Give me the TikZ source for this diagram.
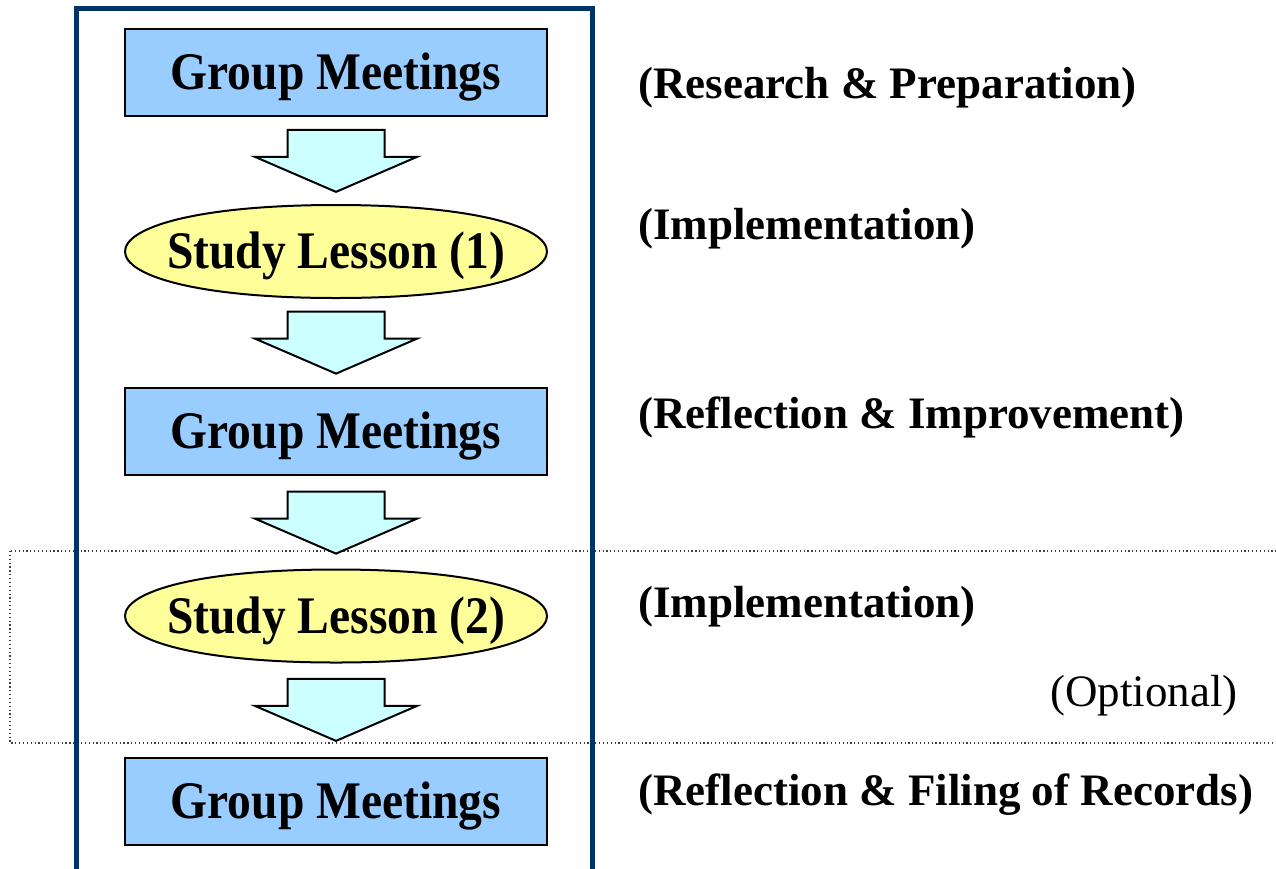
\documentclass[tikz,border=0pt]{standalone}
\usepackage{fontspec}
\setmainfont{Liberation Serif}
\newfontfamily\boxfont[FakeStretch=0.9]{Liberation Serif}
\usetikzlibrary{calc,backgrounds}
\definecolor{boxblue}{HTML}{99CCFF}
\definecolor{ellyellow}{HTML}{FFFF99}
\definecolor{arrcyan}{HTML}{CCFFFF}
\definecolor{framenavy}{HTML}{003366}
\tikzset{
  stagebox/.style={draw=black, line width=1.5pt, fill=boxblue, minimum width=316.5pt, minimum height=65.25pt, inner sep=0pt, text height=26pt, text depth=0pt, font=\boxfont\fontsize{39.6}{42}\selectfont\bfseries},
  lessonnode/.style={rectangle, draw=none, minimum width=316.5pt, minimum height=69.75pt, inner sep=0pt, text height=26pt, text depth=0pt, font=\boxfont\fontsize{39.6}{42}\selectfont\bfseries},
  lessonshape/.style={draw=black, line width=1.5pt, fill=ellyellow},
  blockarr/.style={draw=black, line width=1.5pt, fill=arrcyan, line join=miter},
  sidelabel/.style={anchor=west, inner sep=0pt, font=\fontsize{33.75}{36}\selectfont\bfseries},
  optlabel/.style={anchor=east, inner sep=0pt, font=\fontsize{33.75}{36}\selectfont},
}
\newcommand\blockarrow[1]{\draw[blockarr, shift={(#1)}] (-48.5,-31) -- (48.5,-31) -- (48.5,-4) -- (81,-4) -- (0,31) -- (-81,-4) -- (-48.5,-4) -- cycle;}
\newcommand\lessonoutline[1]{\draw[lessonshape, shift={(#1)}]
  (-211,0) .. controls (-211,-24) and (-140,-46.5) .. (0,-46.5)
  .. controls (140,-46.5) and (211,-24) .. (211,0)
  .. controls (211,24) and (140,46.5) .. (0,46.5)
  .. controls (-140,46.5) and (-211,24) .. cycle;}
\begin{document}
\begin{tikzpicture}[x=0.75pt,y=-0.75pt]
\useasboundingbox (0,0) rectangle (1276,868);
\clip (0,0) rectangle (1276,868);
% nodes
\node[stagebox] (g1) at (336,72.5) {Group Meetings};
\node[lessonnode] (s1) at (336,251.5) {Study Lesson (1)};
\node[stagebox] (g2) at (336,431.5) {Group Meetings};
\node[lessonnode] (s2) at (336,616) {Study Lesson (2)};
\node[stagebox] (g3) at (336,801.5) {Group Meetings};
\begin{pgfonlayer}{background}
\fill[white] (0,0) rectangle (1276,868);
% optional region
\draw[dotted, line width=0.9pt, black!75] (10,551) rectangle (1300,743);
\lessonoutline{s1.center}
\lessonoutline{s2.center}
\end{pgfonlayer}
% block arrows between nodes
\path (g1.south) -- coordinate[pos=0.5] (m1) (s1.north);
\path (s1.south) -- coordinate[pos=0.5] (m2) (g2.north);
\path (g2.south) -- coordinate[pos=0.5] (m3) (s2.north);
\path (s2.south) -- coordinate[pos=0.5] (m4) (g3.north);
\blockarrow{m1}
\blockarrow{m2}
\blockarrow{m3}
\blockarrow{m4}
% frame
\draw[framenavy, line width=3.75pt] (76,8) rectangle (592,900);
% labels
\node[sidelabel] (l1) at (638,88) {(Research \& Preparation)};
\node[sidelabel] (l2) at (638,229) {(Implementation)};
\node[sidelabel] (l3) at (638,417) {(Reflection \& Improvement)};
\node[sidelabel] (l4) at (638,607) {(Implementation)};
\node[optlabel] (l5) at (1238,696) {(Optional)};
\node[sidelabel] (l6) at (638,795) {(Reflection \& Filing of Records)};
\end{tikzpicture}
\end{document}
